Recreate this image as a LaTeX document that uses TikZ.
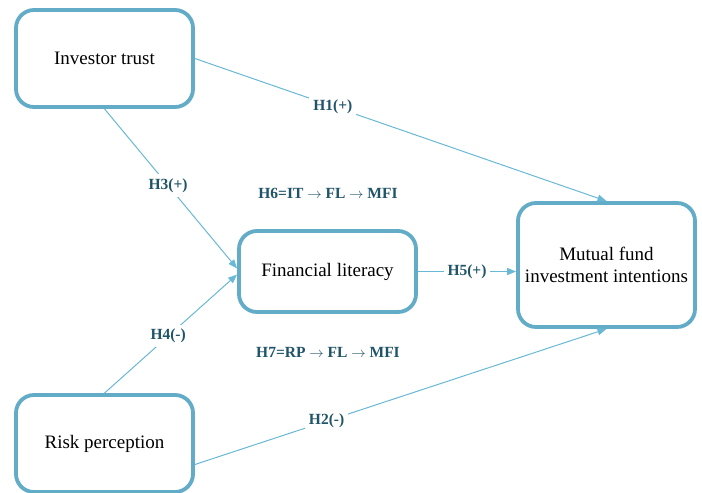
\documentclass[tikz,border=0pt]{standalone}
\usepackage{fontspec}
\setmainfont{Liberation Serif}
\usetikzlibrary{positioning, arrows.meta, calc}
\definecolor{boxblue}{RGB}{98,172,200}
\definecolor{linkblue}{RGB}{104,184,214}
\definecolor{labelteal}{RGB}{32,84,104}
\begin{document}
\begin{tikzpicture}[
    x=1pt, y=-1pt,
    construct/.style={
        draw=boxblue,
        line width=3.8pt,
        rounded corners=18pt,
        fill=white,
        align=center,
        font=\fontsize{19}{22}\selectfont
    },
    hyp/.style={
        -{Triangle[length=9pt, width=7pt]},
        line width=1pt,
        linkblue
    },
    hyplabel/.style={
        fill=white,
        inner sep=4pt,
        text=labelteal,
        font=\fontsize{15.5}{18}\selectfont\bfseries
    }
]
    \useasboundingbox (0,0) rectangle (702,493);

    % Constructs
    \node[construct, minimum width=177pt, minimum height=97pt] (trust) at (104.5,58.5) {Investor trust};
    \node[construct, minimum width=177pt, minimum height=97pt] (risk) at (104.5,443.5) {Risk perception};
    \node[construct, minimum width=177pt, minimum height=81pt] (literacy) at (327.5,271.5) {Financial literacy};
    \node[construct, minimum width=177pt, minimum height=124pt] (intention) at (606.5,265) {Mutual fund\\investment intentions};

    % Direct paths
    \draw[hyp] (trust.east) -- node[hyplabel, pos=0.335] {H1(+)} (intention.north);
    \draw[hyp] ($(risk.east)+(0,21)$) -- node[hyplabel, pos=0.32] {H2(-)} (intention.south);

    % Paths into the mediator
    \draw[hyp] (trust.south) -- node[hyplabel, pos=0.48] {H3(+)} ($(literacy.west)+(0,-3)$);
    \draw[hyp] (risk.north) -- node[hyplabel, pos=0.48] {H4(-)} ($(literacy.west)+(0,3)$);
    \draw[hyp] (literacy.east) -- node[hyplabel, midway] {H5(+)} (intention.west |- literacy.east);

    % Mediation hypotheses
    \node[hyplabel] (medtrust) at (328,193) {H6=IT $\rightarrow$ FL $\rightarrow$ MFI};
    \node[hyplabel] (medrisk) at (328,352) {H7=RP $\rightarrow$ FL $\rightarrow$ MFI};

\end{tikzpicture}
\end{document}
